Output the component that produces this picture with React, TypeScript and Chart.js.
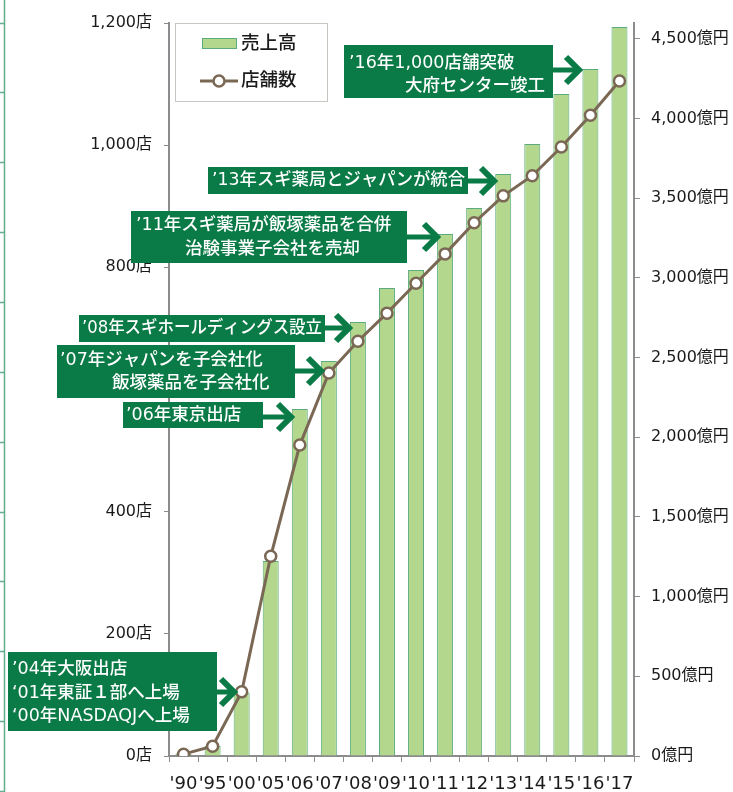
import React, { useEffect, useRef } from "react";
import { Chart, registerables } from "chart.js";

Chart.register(...registerables);

// ---- data ----
const categories = ["'90", "'95", "'00", "'05", "'06", "'07", "'08", "'09", "'10", "'11", "'12", "'13", "'14", "'15", "'16", "'17"];
const salesOku = [15, 63, 397, 1224, 2178, 2479, 2724, 2937, 3050, 3276, 3439, 3652, 3841, 4154, 4311, 4575];
const storeCounts = [3, 16, 105, 327, 509, 627, 679, 725, 774, 822, 873, 917, 950, 997, 1049, 1105];
const storeTicks = [0, 200, 400, 600, 800, 1000, 1200];
const salesTicks = [0, 500, 1000, 1500, 2000, 2500, 3000, 3500, 4000, 4500];
const storeAxis = { min: 0, max: 1200, unit: "店" };
const salesAxis = { min: 0, max: 4600, unit: "億円" };
const seriesNames = { sales: "売上高", stores: "店舗数" };

const annotationTexts = [
  ["’16年1,000店舗突破", "大府センター竣工"],
  ["’13年スギ薬局とジャパンが統合"],
  ["’11年スギ薬局が飯塚薬品を合併", "治験事業子会社を売却"],
  ["’08年スギホールディングス設立"],
  ["’07年ジャパンを子会社化", "飯塚薬品を子会社化"],
  ["’06年東京出店"],
  ["’04年大阪出店", "‘01年東証１部へ上場", "‘00年NASDAQJへ上場"],
];

// ---- layout / style ----
const FONT = '"DejaVu Sans", "Noto Sans CJK JP", sans-serif';
const BAR_FILL = "#b3d78c";
const BAR_BORDER = "#5aab7e";
const LINE = "#7a6855";
const AXIS = "#8c8c8c";
const TEXT = "#1a1a1a";
const NOTE_BG = "#0a7a46";

type Line = { x: number; y: number; align?: CanvasTextAlign };
type NoteLayout = { box: [number, number, number, number]; lines: Line[]; arrowY: number; tipX: number };

const noteLayouts: NoteLayout[] = [
  { box: [344, 45, 209, 53], lines: [{ x: 349, y: 63 }, { x: 545, y: 86, align: "right" }], arrowY: 70, tipX: 579 },
  { box: [208, 167, 260, 27], lines: [{ x: 212, y: 180.5 }], arrowY: 181, tipX: 494 },
  { box: [131, 211, 276, 52], lines: [{ x: 136, y: 225 }, { x: 185, y: 249.5 }], arrowY: 237, tipX: 437 },
  { box: [79, 315, 246, 27], lines: [{ x: 82, y: 328.5 }], arrowY: 328, tipX: 349 },
  { box: [57, 345, 238, 53], lines: [{ x: 60, y: 360 }, { x: 112, y: 383.5 }], arrowY: 371, tipX: 321 },
  { box: [123, 402, 140, 26], lines: [{ x: 126, y: 415 }], arrowY: 417, tipX: 291 },
  { box: [8, 652, 209, 79], lines: [{ x: 12, y: 669 }, { x: 12, y: 693 }, { x: 12, y: 716 }], arrowY: 692, tipX: 234 },
];

const fmt = (v: number) => v.toLocaleString("en-US");

const overlayPlugin = {
  id: "overlay",
  beforeDraw(chart: any) {
    const ctx = chart.ctx as CanvasRenderingContext2D;
    ctx.save();
    // thin green rule at the left edge of the picture
    ctx.strokeStyle = "#62ad8c";
    ctx.lineWidth = 1.5;
    ctx.beginPath();
    ctx.moveTo(4.5, 0);
    ctx.lineTo(4.5, 792);
    for (let k = 0; k < 12; k++) {
      const y = Math.round(22.5 + k * 69.86) + 0.5;
      ctx.moveTo(0, y);
      ctx.lineTo(4.5, y);
    }
    ctx.stroke();
    ctx.restore();
  },
  afterDraw(chart: any) {
    const ctx = chart.ctx as CanvasRenderingContext2D;
    ctx.save();
    // annotations
    noteLayouts.forEach((n, i) => {
      const [bx, by, bw, bh] = n.box;
      ctx.fillStyle = NOTE_BG;
      ctx.strokeStyle = NOTE_BG;
      // stem
      ctx.lineWidth = 5;
      ctx.beginPath();
      ctx.moveTo(bx + bw - 1, n.arrowY);
      ctx.lineTo(n.tipX - 3, n.arrowY);
      ctx.stroke();
      // chevron
      ctx.lineWidth = 6;
      ctx.lineJoin = "miter";
      ctx.beginPath();
      ctx.moveTo(n.tipX - 13, n.arrowY - 13);
      ctx.lineTo(n.tipX, n.arrowY);
      ctx.lineTo(n.tipX - 13, n.arrowY + 13);
      ctx.stroke();
      ctx.fillRect(bx, by, bw, bh);
      ctx.fillStyle = "#ffffff";
      ctx.font = `500 17.5px ${FONT}`;
      ctx.textBaseline = "middle";
      annotationTexts[i].forEach((t, j) => {
        const l = n.lines[j];
        const align = l.align || "left";
        ctx.textAlign = align;
        const maxW = align === "right" ? l.x - bx - 3 : bx + bw - l.x - 3;
        ctx.fillText(t, l.x, l.y, maxW);
      });
    });
    // legend
    ctx.fillStyle = "#ffffff";
    ctx.fillRect(175, 23, 152, 78);
    ctx.strokeStyle = "#c9c6c2";
    ctx.lineWidth = 1;
    ctx.strokeRect(175.5, 23.5, 152, 78);
    ctx.fillStyle = BAR_FILL;
    ctx.fillRect(202, 38, 35, 11);
    ctx.strokeStyle = BAR_BORDER;
    ctx.strokeRect(202.5, 38.5, 34, 10);
    ctx.strokeStyle = LINE;
    ctx.lineWidth = 3;
    ctx.beginPath();
    ctx.moveTo(200, 81);
    ctx.lineTo(238, 81);
    ctx.stroke();
    ctx.beginPath();
    ctx.arc(219, 81, 5.5, 0, Math.PI * 2);
    ctx.fillStyle = "#ffffff";
    ctx.fill();
    ctx.lineWidth = 2.5;
    ctx.stroke();
    ctx.fillStyle = TEXT;
    ctx.font = `500 18.5px ${FONT}`;
    ctx.textAlign = "left";
    ctx.textBaseline = "middle";
    ctx.fillText(seriesNames.sales, 241, 44);
    ctx.fillText(seriesNames.stores, 241, 81);
    ctx.restore();
  },
};

export default function App() {
  const ref = useRef<HTMLCanvasElement | null>(null);
  useEffect(() => {
    if (!ref.current) return;
    Chart.defaults.font.family = FONT;
    const zeroPad = (s: any) => {
      s.paddingTop = 0;
      s.paddingBottom = 0;
      s.paddingLeft = 0;
      s.paddingRight = 0;
    };
    const chart = new Chart(ref.current, {
      type: "bar",
      data: {
        labels: categories,
        datasets: [
          {
            type: "line",
            label: seriesNames.stores,
            data: storeCounts,
            yAxisID: "y",
            borderColor: LINE,
            borderWidth: 3,
            pointRadius: 5.5,
            pointBackgroundColor: "#ffffff",
            pointBorderColor: LINE,
            pointBorderWidth: 2.5,
            tension: 0,
            order: 0,
          } as any,
          {
            type: "bar",
            label: seriesNames.sales,
            data: salesOku,
            yAxisID: "y1",
            backgroundColor: BAR_FILL,
            borderColor: BAR_BORDER,
            borderWidth: 1,
            barPercentage: 0.55,
            categoryPercentage: 1,
            order: 1,
          } as any,
        ],
      },
      options: {
        responsive: false,
        animation: false,
        devicePixelRatio: 1,
        layout: { padding: { top: 23, left: 0, right: 0, bottom: 0 } },
        plugins: { legend: { display: false }, tooltip: { enabled: false } },
        scales: {
          x: {
            grid: { offset: true, drawOnChartArea: false, drawTicks: true, tickLength: 6, color: AXIS, lineWidth: 1 },
            border: { color: AXIS, width: 2 },
            ticks: { font: { size: 18, family: FONT }, color: TEXT, maxRotation: 0, minRotation: 0, autoSkip: false, padding: 12 },
            afterFit: (s: any) => {
              s.height = 36;
              zeroPad(s);
            },
          },
          y: {
            position: "left",
            min: storeAxis.min,
            max: storeAxis.max,
            grid: { drawOnChartArea: false, tickLength: 5, color: AXIS },
            border: { color: AXIS, width: 2 },
            ticks: {
              autoSkip: false,
              font: { size: 16, family: FONT },
              color: TEXT,
              padding: 12,
              callback: (v: any) => fmt(Number(v)) + storeAxis.unit,
            },
            afterBuildTicks: (s: any) => {
              s.ticks = storeTicks.map((v) => ({ value: v }));
            },
            afterFit: (s: any) => {
              s.width = 169;
              zeroPad(s);
            },
          },
          y1: {
            position: "right",
            min: salesAxis.min,
            max: salesAxis.max,
            grid: { drawOnChartArea: false, tickLength: 6, color: AXIS },
            border: { color: AXIS, width: 2 },
            ticks: {
              autoSkip: false,
              font: { size: 16, family: FONT },
              color: TEXT,
              padding: 11,
              callback: (v: any) => fmt(Number(v)) + salesAxis.unit,
            },
            afterBuildTicks: (s: any) => {
              s.ticks = salesTicks.map((v) => ({ value: v }));
            },
            afterFit: (s: any) => {
              s.width = 99;
              zeroPad(s);
            },
          },
        },
      } as any,
      plugins: [overlayPlugin],
    });
    return () => chart.destroy();
  }, []);
  return (
    <div style={{ position: "fixed", left: 0, top: 0, width: 733, height: 792, background: "#fff" }}>
      <canvas ref={ref} width={733} height={792} style={{ display: "block" }} />
    </div>
  );
}
